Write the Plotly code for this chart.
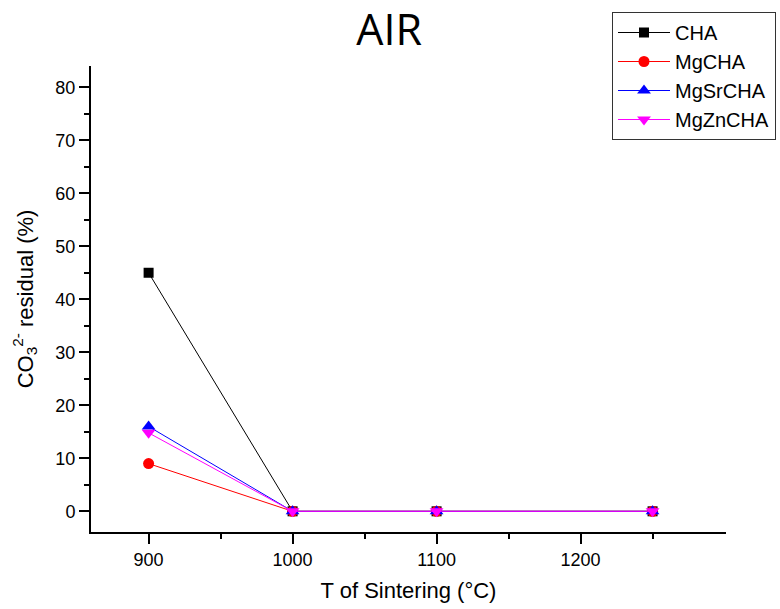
import plotly.graph_objects as go

temps = [900, 1000, 1100, 1250]
cha = [45, 0, 0, 0]
mgcha = [9, 0, 0, 0]
mgsrcha = [16, 0, 0, 0]
mgzncha = [14.8, 0, 0, 0]

series = [
    ("CHA", cha, "black", "square", 10),
    ("MgCHA", mgcha, "red", "circle", 11),
    ("MgSrCHA", mgsrcha, "blue", "triangle-up", 12),
    ("MgZnCHA", mgzncha, "magenta", "triangle-down", 12),
]

fig = go.Figure()
for name, vals, col, sym, sz in series:
    fig.add_trace(go.Scatter(
        x=temps, y=vals, name=name, mode="lines+markers",
        line=dict(color=col, width=1),
        marker=dict(symbol=sym, size=sz, color=col, line=dict(width=0)),
    ))

axis_font = dict(family="Arial, Liberation Sans, sans-serif", size=18, color="black")

fig.update_layout(
    width=780, height=609,
    margin=dict(l=91, r=54, t=66, b=77, autoexpand=False),
    paper_bgcolor="white", plot_bgcolor="white",
    title=dict(text="AIR", x=0.499, xanchor="center", yref="container", y=0.951, yanchor="middle",
               font=dict(family="Open Sans, sans-serif", size=43, color="black")),
    legend=dict(xref="container", yref="container", x=612/780, y=1 - 12/609,
                xanchor="left", yanchor="top",
                bordercolor="#333333", borderwidth=1, bgcolor="white",
                font=dict(family="Arial, Liberation Sans, sans-serif", size=20, color="black"),
                itemwidth=52, tracegroupgap=0),
    showlegend=True,
)

fig.update_xaxes(
    range=[860, 1301], showline=True, linecolor="black", linewidth=2, mirror=False,
    showgrid=False, zeroline=False,
    tickmode="array", tickvals=[900, 1000, 1100, 1200],
    ticks="outside", ticklen=10, tickwidth=2, tickcolor="black",
    minor=dict(tickvals=[950, 1050, 1150, 1250], ticks="outside", ticklen=5, tickwidth=2, tickcolor="black"),
    tickfont=axis_font,
    title=dict(text="T of Sintering (°C)", font=dict(family="Arial, Liberation Sans, sans-serif", size=22, color="black"), standoff=14),
)
fig.update_yaxes(
    range=[-3.9, 84.0], showline=True, linecolor="black", linewidth=2, mirror=False,
    showgrid=False, zeroline=False,
    tickmode="array", tickvals=[0, 10, 20, 30, 40, 50, 60, 70, 80],
    ticks="outside", ticklen=10, tickwidth=2, tickcolor="black",
    minor=dict(tickvals=[5, 15, 25, 35, 45, 55, 65, 75], ticks="outside", ticklen=5, tickwidth=2, tickcolor="black"),
    tickfont=axis_font,
    title=dict(text="CO<sub>3</sub><sup>2-</sup> residual (%)", font=dict(family="Arial, Liberation Sans, sans-serif", size=22, color="black"), standoff=16),
)

fig.write_html("out.html")
